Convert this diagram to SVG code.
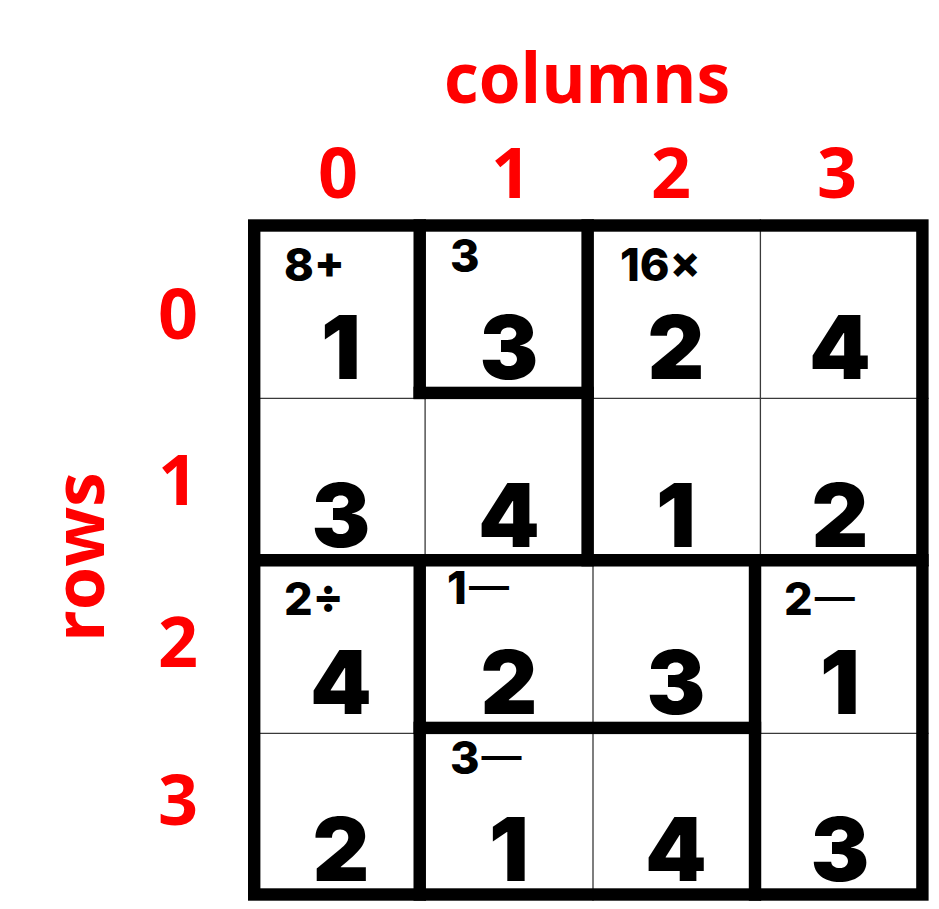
<svg xmlns="http://www.w3.org/2000/svg" width="939" height="909" viewBox="0 0 939 909">
<style>
.thin{stroke:#3a3a3a;stroke-width:1.3;fill:none}
.thick{fill:#000}
.val{font-family:Inter,"Liberation Sans",sans-serif;font-weight:900;font-size:88px;fill:#000;text-anchor:middle}
.cage{font-family:Inter,"Liberation Sans",sans-serif;font-weight:800;font-size:45px;fill:#000}
.dash{font-family:"Liberation Sans",sans-serif;font-weight:700;font-size:40px}
.hdr{font-family:"Open Sans","Noto Sans",sans-serif;font-weight:700;fill:#FF0000;text-anchor:middle;font-size:70px}
</style>
<rect width="939" height="909" fill="#fff"/>
<g id="headers">
<text class="hdr" x="587" y="103" textLength="286" lengthAdjust="spacingAndGlyphs">columns</text>
<text class="hdr" x="338" y="198">0</text>
<text class="hdr" x="511" y="198">1</text>
<text class="hdr" x="671" y="198">2</text>
<text class="hdr" x="837" y="198">3</text>
<text class="hdr" transform="translate(104 557) rotate(-90)">rows</text>
<text class="hdr" x="178" y="339">0</text>
<text class="hdr" x="178" y="505">1</text>
<text class="hdr" x="178" y="667">2</text>
<text class="hdr" x="178" y="825">3</text>
</g>
<g id="connectors">
<path class="thin" d="M425.1 219.3V900.7M593 219.3V900.7M760.4 219.3V900.7M248 398.3H928.6M248 565.6H928.6M248 733.3H928.6"/>
<rect class="thick" x="413.5" y="219.3" width="12.4" height="179.8"/>
<rect class="thick" x="413.5" y="554" width="12.4" height="346.7"/>
<rect class="thick" x="581.4" y="219.3" width="12.4" height="347.1"/>
<rect class="thick" x="748.8" y="554" width="12.4" height="346.7"/>
<rect class="thick" x="413.5" y="386.7" width="180.3" height="12.4"/>
<rect class="thick" x="248" y="554" width="680.6" height="12.4"/>
<rect class="thick" x="413.5" y="721.7" width="347.7" height="12.4"/>
<rect x="254.2" y="225.5" width="668.2" height="669" fill="none" stroke="#000" stroke-width="12.4"/>
</g>
<g id="cell-0-0"><text class="cage" x="284" y="281">8+</text><text class="val" x="341" y="379">1</text></g>
<g id="cell-0-1"><text class="cage" x="450" y="272">3</text><text class="val" x="509" y="379">3</text></g>
<g id="cell-0-2"><text class="cage" x="620" y="281">16×</text><text class="val" x="676" y="379">2</text></g>
<g id="cell-0-3"><text class="val" x="840" y="379">4</text></g>
<g id="cell-1-0"><text class="val" x="341" y="546.5">3</text></g>
<g id="cell-1-1"><text class="val" x="509" y="546.5">4</text></g>
<g id="cell-1-2"><text class="val" x="676" y="546.5">1</text></g>
<g id="cell-1-3"><text class="val" x="840" y="546.5">2</text></g>
<g id="cell-2-0"><text class="cage" x="284" y="615">2÷</text><text class="val" x="341" y="714">4</text></g>
<g id="cell-2-1"><text class="cage" x="447" y="604">1<tspan class="dash" dx="2" dy="-5">—</tspan></text><text class="val" x="509" y="714">2</text></g>
<g id="cell-2-2"><text class="val" x="676" y="714">3</text></g>
<g id="cell-2-3"><text class="cage" x="784" y="615">2<tspan class="dash" dx="2" dy="-5">—</tspan></text><text class="val" x="840" y="714">1</text></g>
<g id="cell-3-0"><text class="val" x="341" y="881">2</text></g>
<g id="cell-3-1"><text class="cage" x="450" y="774">3<tspan class="dash" dx="2" dy="-5">—</tspan></text><text class="val" x="509" y="881">1</text></g>
<g id="cell-3-2"><text class="val" x="676" y="881">4</text></g>
<g id="cell-3-3"><text class="val" x="840" y="881">3</text></g>
</svg>
